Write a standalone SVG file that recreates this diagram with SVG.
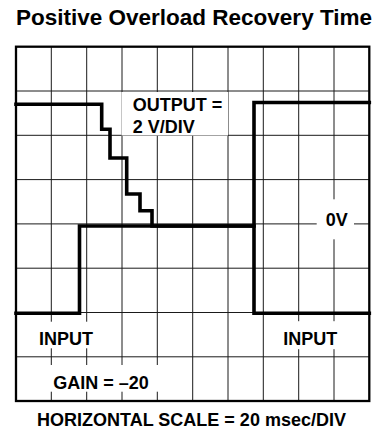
<svg xmlns="http://www.w3.org/2000/svg" width="386" height="432" viewBox="0 0 386 432">
<style>
  .grid { stroke: #1a1a1a; stroke-width: 1; fill: none; }
  .frame { stroke: #000; stroke-width: 2.3; fill: none; }
  .trace { stroke: #000; stroke-width: 3.6; fill: none; stroke-linejoin: miter; stroke-linecap: square; }
  .bg { fill: #fff; stroke: none; }
  .lbl { font-family: "Liberation Sans", Arial, sans-serif; font-weight: bold; font-size: 18px; fill: #000; }
  .title { font-family: "Liberation Sans", Arial, sans-serif; font-weight: bold; font-size: 22.5px; fill: #000; }
</style>
<rect x="0" y="0" width="386" height="432" fill="#fff"/>
<text id="title" class="title" x="16" y="25">Positive Overload Recovery Time</text>
<g id="grid" class="grid">
  <path d="M51.3,46.7V401 M86.7,46.7V401 M122,46.7V401 M157.3,46.7V401 M192.7,46.7V401 M228,46.7V401 M263.3,46.7V401 M298.7,46.7V401 M334,46.7V401"/>
  <path d="M16,91H369.3 M16,135.3H369.3 M16,179.6H369.3 M16,223.9H369.3 M16,268.2H369.3 M16,312.5H369.3 M16,356.8H369.3"/>
</g>
<g id="label-backgrounds">
  <rect class="bg" x="121.5" y="92" width="106.5" height="43.5"/>
  <rect class="bg" x="316.7" y="199.3" width="37.3" height="40"/>
  <rect class="bg" x="36" y="321.7" width="58" height="26.6"/>
  <rect class="bg" x="270" y="321.2" width="75" height="28"/>
  <rect class="bg" x="47" y="365" width="114" height="26.7"/>
</g>
<rect id="frame" class="frame" x="16" y="46.7" width="353.3" height="354.3"/>
<g id="connectors">
  <path id="output-trace" class="trace" d="M16,104.3H101.7V129.3H110V158H126.7V194H140V210.7H152V226H254V102.5H369.3"/>
  <path id="input-trace" class="trace" d="M16,313.3H79.5V226H254V313.3H369.3"/>
</g>
<g id="output-label">
  <text class="lbl" x="132.7" y="111">OUTPUT =</text>
  <text class="lbl" x="132.7" y="133">2 V/DIV</text>
</g>
<g id="zero-label">
  <text class="lbl" x="336.7" y="226" text-anchor="middle">0V</text>
</g>
<g id="input-label-left">
  <text class="lbl" x="39" y="345">INPUT</text>
</g>
<g id="input-label-right">
  <text class="lbl" x="283.3" y="344.5">INPUT</text>
</g>
<g id="gain-label">
  <text class="lbl" x="53.3" y="389.3">GAIN = –20</text>
</g>
<text id="xscale" class="lbl" x="191.5" y="425.5" text-anchor="middle">HORIZONTAL SCALE = 20 msec/DIV</text>
</svg>
